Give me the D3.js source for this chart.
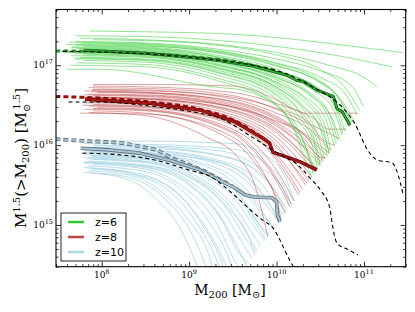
<!DOCTYPE html>
<html>
<head>
<meta charset="utf-8">
<script src="https://cdn.jsdelivr.net/npm/d3@7"></script>
<style>
  body { margin: 0; background: #fff; }
  .serif { font-family: "DejaVu Serif", "Liberation Serif", serif; }
</style>
</head>
<body>
<div id="chart"></div>
<script>
// all values are log10 : [log10 M200, log10 M^1.5(>M200)]
const xMajor = [8, 9, 10, 11];
const yMajor = [15, 16, 17];
const legendLabels = ["z=6", "z=8", "z=10"];

const linesZ6 = [
  [[7.86,17.43],[8.5,17.42],[9.5,17.39],[10.25,17.32],[11.0,17.22],[11.44,17.16]],
  [[7.70,17.37],[8.5,17.36],[9.35,17.31],[10.25,17.2],[10.8,17.1],[11.32,16.98]],
  [[7.75,17.34],[8.5,17.32],[9.35,17.26],[10.0,17.16],[10.6,17.0],[11.0,16.85],[11.15,16.73]],
  [[7.90,17.32],[8.5,17.31],[9.35,17.25],[10.0,17.13],[10.5,16.95],[10.8,16.7],[10.95,16.43]],
  [[7.70,17.30],[8.5,17.28],[9.35,17.2],[10.0,17.08],[10.5,16.93],[10.85,16.75],[10.99,16.49]],
  [[7.62,17.29],[8.5,17.27],[9.35,17.18],[10.0,17.03],[10.5,16.85],[10.8,16.62],[10.92,16.38]],
  [[7.78,17.28],[8.5,17.26],[9.35,17.17],[10.0,17.02],[10.45,16.84],[10.72,16.58],[10.86,16.29]],
  [[7.60,17.26],[8.5,17.24],[9.35,17.16],[10.0,17.0],[10.5,16.78],[10.75,16.55],[10.88,16.32]],
  [[7.75,17.27],[8.5,17.25],[9.35,17.15],[10.0,16.99],[10.45,16.82],[10.7,16.6],[10.85,16.28]],
  [[7.70,17.25],[8.5,17.23],[9.35,17.12],[10.0,16.95],[10.4,16.75],[10.75,16.45],[10.82,16.23]],
  [[7.80,17.24],[8.5,17.22],[9.35,17.1],[10.0,16.92],[10.5,16.7],[10.7,16.45],[10.78,16.17]],
  [[7.66,17.23],[8.5,17.21],[9.35,17.1],[10.0,16.93],[10.45,16.72],[10.68,16.45],[10.76,16.14]],
  [[7.65,17.22],[8.5,17.2],[9.35,17.08],[10.0,16.9],[10.4,16.7],[10.65,16.45],[10.75,16.12]],
  [[7.72,17.21],[8.5,17.19],[9.35,17.06],[10.0,16.87],[10.35,16.68],[10.6,16.4],[10.7,16.05]],
  [[7.80,17.20],[8.5,17.18],[9.35,17.05],[10.0,16.84],[10.4,16.62],[10.65,16.3],[10.72,16.08]],
  [[7.85,17.19],[8.5,17.17],[9.35,17.04],[10.0,16.85],[10.35,16.65],[10.58,16.38],[10.68,16.02]],
  [[7.68,17.18],[8.5,17.16],[9.35,17.03],[10.0,16.82],[10.3,16.62],[10.55,16.35],[10.66,15.99]],
  [[7.75,17.17],[8.5,17.15],[9.35,17.01],[10.0,16.79],[10.35,16.55],[10.55,16.25],[10.62,15.93]],
  [[7.62,17.16],[8.5,17.14],[9.35,17.0],[10.0,16.78],[10.3,16.56],[10.52,16.25],[10.6,15.9]],
  [[7.70,17.15],[8.5,17.13],[9.35,16.99],[10.0,16.76],[10.3,16.5],[10.5,16.2],[10.58,15.87]],
  [[7.82,17.14],[8.5,17.12],[9.35,16.97],[10.0,16.73],[10.3,16.48],[10.55,16.1],[10.6,15.9]],
  [[7.78,17.13],[8.5,17.11],[9.35,16.96],[10.0,16.72],[10.3,16.45],[10.48,16.1],[10.55,15.83]],
  [[7.65,17.12],[8.5,17.1],[9.35,16.95],[10.0,16.7],[10.25,16.45],[10.45,16.1],[10.53,15.8]],
  [[7.75,17.10],[8.5,17.08],[9.35,16.93],[10.0,16.67],[10.3,16.35],[10.45,16.0],[10.5,15.75]],
  [[7.68,17.09],[8.5,17.07],[9.35,16.91],[10.0,16.64],[10.28,16.32],[10.44,15.98],[10.49,15.74]],
  [[7.70,17.08],[8.5,17.06],[9.35,16.9],[10.0,16.62],[10.25,16.3],[10.42,15.95],[10.47,15.7]],
  [[7.80,17.06],[8.5,17.04],[9.35,16.87],[10.0,16.58],[10.2,16.3],[10.38,15.85],[10.45,15.68]],
  [[7.72,17.03],[8.5,17.01],[9.35,16.83],[9.9,16.6],[10.2,16.25],[10.36,15.9],[10.42,15.63]],
  [[7.65,17.00],[8.5,16.98],[9.35,16.8],[10.0,16.5],[10.2,16.2],[10.33,15.8],[10.4,15.6]],
  [[7.60,16.95],[8.0,16.95],[9.35,16.72],[9.55,16.7],[10.04,16.45],[10.3,16.0],[10.44,15.66]]
];

const linesZ8 = [
  [[7.90,16.76],[8.5,16.76],[9.5,16.74],[9.9,16.62],[10.2,16.45],[10.3,16.4],[10.93,16.4]],
  [[7.90,16.74],[8.5,16.73],[9.5,16.66],[10.0,16.52],[10.4,16.35],[10.6,16.2],[10.8,16.2]],
  [[7.85,16.72],[8.5,16.71],[9.5,16.62],[10.0,16.45],[10.4,16.25],[10.5,16.2],[10.72,16.08]],
  [[7.90,16.70],[8.5,16.69],[9.5,16.58],[10.0,16.4],[10.4,16.18],[10.62,15.93]],
  [[7.88,16.69],[8.5,16.68],[9.5,16.6],[10.0,16.46],[10.35,16.3],[10.55,16.05],[10.67,16.0]],
  [[7.80,16.68],[8.5,16.66],[9.5,16.55],[10.0,16.36],[10.35,16.12],[10.6,15.9]],
  [[7.88,16.67],[8.5,16.66],[9.5,16.54],[10.0,16.34],[10.32,16.12],[10.58,15.87]],
  [[7.95,16.66],[8.5,16.65],[9.5,16.52],[10.0,16.32],[10.3,16.1],[10.5,15.85],[10.56,15.84]],
  [[7.85,16.64],[8.5,16.63],[9.5,16.5],[10.0,16.28],[10.3,16.05],[10.53,15.8]],
  [[7.80,16.63],[8.5,16.62],[9.5,16.48],[10.0,16.26],[10.28,16.02],[10.52,15.78]],
  [[7.90,16.62],[8.5,16.61],[9.5,16.47],[10.0,16.24],[10.3,15.98],[10.5,15.75]],
  [[7.82,16.60],[8.5,16.59],[9.5,16.48],[10.0,16.3],[10.3,16.15],[10.45,15.95],[10.55,15.83]],
  [[7.75,16.60],[8.5,16.58],[9.5,16.44],[10.0,16.2],[10.25,15.95],[10.47,15.7]],
  [[7.92,16.59],[8.5,16.58],[9.5,16.43],[10.0,16.18],[10.27,15.92],[10.46,15.69]],
  [[7.90,16.58],[8.5,16.57],[9.5,16.41],[10.0,16.15],[10.25,15.9],[10.44,15.66]],
  [[7.85,16.56],[8.5,16.55],[9.5,16.38],[10.0,16.1],[10.2,15.88],[10.4,15.6]],
  [[7.92,16.55],[8.5,16.53],[9.5,16.35],[10.0,16.05],[10.2,15.8],[10.37,15.55]],
  [[7.86,16.54],[8.5,16.52],[9.5,16.33],[9.95,16.02],[10.18,15.76],[10.35,15.52]],
  [[7.80,16.53],[8.5,16.51],[9.5,16.32],[10.0,16.0],[10.2,15.72],[10.33,15.5]],
  [[7.90,16.51],[8.5,16.49],[9.5,16.28],[9.9,16.0],[10.1,15.75],[10.3,15.45]],
  [[7.78,16.50],[8.5,16.48],[9.5,16.27],[9.9,15.97],[10.1,15.7],[10.27,15.4]],
  [[7.85,16.49],[8.5,16.47],[9.5,16.25],[9.9,15.95],[10.1,15.65],[10.25,15.38]],
  [[7.95,16.47],[8.5,16.45],[9.5,16.2],[9.85,15.9],[10.05,15.6],[10.2,15.3]],
  [[7.90,16.46],[8.5,16.44],[9.5,16.17],[9.82,15.86],[10.02,15.55],[10.17,15.26]],
  [[7.80,16.45],[8.5,16.43],[9.5,16.15],[9.8,15.85],[10.0,15.55],[10.15,15.23]],
  [[7.90,16.43],[8.5,16.4],[9.5,16.1],[9.8,15.75],[10.0,15.35],[10.1,15.15]],
  [[7.85,16.41],[8.5,16.37],[9.2,16.1],[9.53,15.88],[9.75,15.5],[9.9,14.85]],
  [[7.75,16.40],[8.5,16.39],[9.5,16.05],[9.8,15.7],[10.0,15.3],[10.05,15.08]]
];

const linesZ10 = [
  [[7.85,16.05],[8.5,16.05],[9.5,16.02],[9.9,15.85],[10.1,15.6],[10.2,15.3]],
  [[7.80,16.02],[8.5,16.01],[9.5,15.95],[9.9,15.75],[10.1,15.45],[10.17,15.25]],
  [[7.90,16.00],[8.5,15.99],[9.4,15.92],[9.8,15.72],[10.05,15.5],[10.15,15.23]],
  [[7.90,15.99],[8.5,15.98],[9.3,15.88],[9.8,15.65],[10.0,15.4],[10.12,15.18]],
  [[7.83,15.97],[8.5,15.96],[9.4,15.86],[9.85,15.6],[10.0,15.4],[10.1,15.15]],
  [[7.85,15.96],[8.5,15.94],[9.3,15.82],[9.8,15.55],[10.0,15.25],[10.08,15.12]],
  [[7.86,15.95],[8.5,15.93],[9.3,15.8],[9.75,15.52],[9.97,15.18],[10.05,15.07]],
  [[7.80,15.93],[8.5,15.91],[9.3,15.77],[9.7,15.5],[9.95,15.15],[10.03,15.04]],
  [[7.87,15.92],[8.5,15.9],[9.35,15.78],[9.75,15.5],[9.95,15.2],[10.02,15.03]],
  [[7.82,15.91],[8.5,15.89],[9.25,15.74],[9.65,15.45],[9.9,15.06],[9.97,14.95]],
  [[7.90,15.90],[8.5,15.88],[9.2,15.73],[9.6,15.45],[9.9,15.05],[9.98,14.97]],
  [[7.82,15.88],[8.5,15.86],[9.2,15.68],[9.6,15.35],[9.85,14.95],[9.92,14.88]],
  [[7.88,15.87],[8.5,15.84],[9.15,15.66],[9.55,15.35],[9.82,14.92],[9.88,14.82]],
  [[7.88,15.86],[8.5,15.83],[9.1,15.65],[9.5,15.35],[9.8,14.9],[9.87,14.8]],
  [[7.85,15.85],[8.5,15.82],[9.2,15.66],[9.55,15.4],[9.8,15.0],[9.9,14.85]],
  [[7.80,15.84],[8.5,15.8],[9.1,15.6],[9.5,15.25],[9.75,14.85],[9.82,14.73]],
  [[7.84,15.83],[8.5,15.79],[9.05,15.6],[9.45,15.25],[9.72,14.78],[9.78,14.67]],
  [[7.90,15.82],[8.5,15.78],[9.0,15.6],[9.4,15.25],[9.7,14.75],[9.77,14.65]],
  [[7.85,15.80],[8.5,15.75],[9.0,15.55],[9.4,15.15],[9.65,14.7],[9.72,14.58]],
  [[7.80,15.79],[8.5,15.73],[9.0,15.52],[9.35,15.12],[9.6,14.62],[9.66,14.49]],
  [[7.80,15.78],[8.5,15.74],[9.1,15.55],[9.45,15.2],[9.7,14.8],[9.75,14.62]],
  [[7.78,15.78],[8.5,15.72],[9.0,15.5],[9.35,15.1],[9.6,14.6],[9.68,14.52]],
  [[7.90,15.76],[8.5,15.7],[8.9,15.5],[9.3,15.05],[9.55,14.5],[9.62,14.4]],
  [[7.85,15.74],[8.5,15.67],[8.9,15.45],[9.25,15.0],[9.45,14.6],[9.55,14.3]],
  [[7.80,15.72],[8.4,15.65],[8.8,15.45],[9.2,14.95],[9.4,14.55],[9.5,14.3]],
  [[7.86,15.71],[8.4,15.63],[8.85,15.42],[9.15,15.0],[9.35,14.6],[9.45,14.3]],
  [[7.90,15.70],[8.4,15.62],[8.8,15.4],[9.1,15.0],[9.3,14.6],[9.4,14.3]],
  [[7.85,15.68],[8.4,15.6],[8.7,15.4],[9.0,15.05],[9.2,14.7],[9.3,14.35]],
  [[7.80,15.66],[8.3,15.6],[8.7,15.35],[9.0,14.95],[9.15,14.6],[9.25,14.3]],
  [[7.88,15.65],[8.3,15.57],[8.6,15.35],[8.9,14.95],[9.05,14.6],[9.15,14.3]]
];

// median of the realisations
const meanZ6 = [[7.80,17.19],[8.5,17.15],[9.0,17.1],[9.35,17.06],[9.73,16.99],[10.12,16.875],[10.23,16.81],[10.3,16.8],[10.46,16.69],[10.65,16.61],[10.69,16.46],[10.75,16.42],[10.84,16.25]];
const meanZ8 = [[7.81,16.575],[8.55,16.525],[9.12,16.44],[9.53,16.29],[9.73,16.16],[9.84,16.09],[9.92,16.025],[9.96,15.91],[10.12,15.85],[10.27,15.79],[10.46,15.69]];
const meanZ10 = [[7.76,15.96],[8.09,15.94],[8.43,15.9],[8.78,15.81],[9.12,15.69],[9.35,15.56],[9.53,15.46],[9.64,15.375],[9.75,15.35],[9.95,15.34],[10.0,15.29],[10.01,15.125],[10.04,15.04]];

// full box
const fullZ6 = [[7.47,17.18],[7.8,17.18],[8.5,17.15],[9.0,17.11],[9.5,17.05],[10.0,16.93]];
const fullZ8 = [[7.47,16.61],[7.97,16.59],[8.55,16.54],[9.12,16.45],[9.53,16.3],[9.8,16.12]];
const fullZ10 = [[7.47,16.075],[7.85,16.05],[8.24,16.025],[8.47,15.975],[8.62,15.94],[8.78,15.85],[9.12,15.7],[9.5,15.48]];

// analytic expectation
const expZ6 = [[7.55,17.175],[8.55,17.14],[9.35,17.06],[9.73,17.0],[10.12,16.89],[10.46,16.7],[10.73,16.5],[10.9,16.26],[11.04,15.94],[11.16,15.81],[11.32,15.78],[11.37,15.69],[11.45,15.375]];
const expZ8 = [[7.62,16.54],[7.97,16.54],[8.55,16.49],[9.12,16.4],[9.35,16.34],[9.72,16.1],[10.01,15.9],[10.27,15.725],[10.38,15.59],[10.5,15.44],[10.61,15.21],[10.63,15.06],[10.69,14.775],[10.82,14.69],[10.93,14.625]];
const expZ10 = [[7.78,15.9],[8.24,15.875],[8.62,15.81],[8.99,15.69],[9.27,15.59],[9.38,15.5],[9.58,15.31],[9.73,15.16],[9.84,15.06],[9.96,14.96],[10.04,14.81],[10.09,14.69],[10.15,14.56],[10.2,14.46]];

const W = 415, H = 312;
const margin = { top: 9.5, right: 9.3, bottom: 45.3, left: 56 };

const svg = d3.select("#chart").append("svg")
  .attr("width", W).attr("height", H);

const x = d3.scaleLog().domain([3e7, 3e11]).range([margin.left, W - margin.right]);
const y = d3.scaleLog().domain([3e14, 5e17]).range([H - margin.bottom, margin.top]);

svg.append("clipPath").attr("id", "plot")
  .append("rect")
  .attr("x", margin.left).attr("y", margin.top)
  .attr("width", W - margin.left - margin.right)
  .attr("height", H - margin.top - margin.bottom);

const line = d3.line()
  .x((d) => x(Math.pow(10, d[0])))
  .y((d) => y(Math.pow(10, d[1])));
const smooth = d3.line()
  .x((d) => x(Math.pow(10, d[0])))
  .y((d) => y(Math.pow(10, d[1])))
  .curve(d3.curveMonotoneX);

const g = svg.append("g").attr("clip-path", "url(#plot)");

function thin(data, color, op) {
  g.append("g").selectAll("path").data(data).enter().append("path")
    .attr("d", smooth)
    .style("fill", "none")
    .style("stroke", color)
    .style("stroke-opacity", op)
    .style("stroke-width", 1);
}
thin(linesZ10, "#add8e6", 0.85);
thin(linesZ8, "#b22222", 0.42);
thin(linesZ6, "#32cd32", 0.52);

function draw(data, color, width, dash, gen) {
  g.append("path").datum(data)
    .attr("d", gen || line)
    .style("fill", "none")
    .style("stroke", color)
    .style("stroke-width", width)
    .style("stroke-dasharray", dash || null)
    .style("stroke-linejoin", "round");
}

// coloured dashed (full box)
draw(fullZ6, "#2a9a2a", 3, "5,3", smooth);
draw(fullZ8, "#9a1010", 3, "5,3", smooth);
draw(fullZ10, "#5f6f79", 3.8, "5,3", smooth);
draw(fullZ10, "#a9c4d2", 2, "5,3", smooth);

// medians with outline
draw(meanZ6, "#134d13", 3);
draw(meanZ6, "#2aa82a", 1.8);
draw(meanZ8, "#5a0000", 3.4);
draw(meanZ8, "#a31515", 2.4);
draw(meanZ10, "#5a6a75", 3.6);
draw(meanZ10, "#a9c4d2", 2);

// black dashed expectation
draw(expZ6, "#000", 1.1, "4,3", smooth);
draw(expZ8, "#000", 1.1, "4,3", smooth);
draw(expZ10, "#000", 1.1, "4,3", smooth);

// axes: ticks inward on all four sides
const allX = x.ticks();
const allY = y.ticks();
const isMajor = (v) => Math.abs(Math.log10(v) - Math.round(Math.log10(v))) < 1e-6;
const bottom = H - margin.bottom, right = W - margin.right;

function ticks(axis, pos, vals, size) {
  const a = svg.append("g").attr("transform", pos)
    .call(axis.tickValues(vals).tickSize(-size).tickFormat(""));
  a.select(".domain").remove();
  a.selectAll("line").style("stroke", "#000").style("stroke-width", 0.8);
}
const minX = allX.filter((v) => !isMajor(v)), majX = allX.filter(isMajor);
const minY = allY.filter((v) => !isMajor(v)), majY = allY.filter(isMajor);
ticks(d3.axisBottom(x), `translate(0,${bottom})`, minX, 2.5);
ticks(d3.axisBottom(x), `translate(0,${bottom})`, majX, 5);
ticks(d3.axisTop(x), `translate(0,${margin.top})`, minX, 2.5);
ticks(d3.axisTop(x), `translate(0,${margin.top})`, majX, 5);
ticks(d3.axisLeft(y), `translate(${margin.left},0)`, minY, 2.5);
ticks(d3.axisLeft(y), `translate(${margin.left},0)`, majY, 5);
ticks(d3.axisRight(y), `translate(${right},0)`, minY, 2.5);
ticks(d3.axisRight(y), `translate(${right},0)`, majY, 5);

svg.append("rect")
  .attr("x", margin.left).attr("y", margin.top)
  .attr("width", right - margin.left).attr("height", bottom - margin.top)
  .style("fill", "none").style("stroke", "#000").style("stroke-width", 1.1);

// tick labels 10^n
xMajor.forEach((e) => {
  const t = svg.append("text").attr("class", "serif")
    .attr("x", x(Math.pow(10, e))).attr("y", bottom + 11)
    .attr("text-anchor", "middle").style("font-size", "9px");
  t.append("tspan").text("10");
  t.append("tspan").attr("dy", -4).style("font-size", "6.5px").text(e);
});
yMajor.forEach((e) => {
  const t = svg.append("text").attr("class", "serif")
    .attr("x", margin.left - 3).attr("y", y(Math.pow(10, e)) + 3)
    .attr("text-anchor", "end").style("font-size", "9px");
  t.append("tspan").text("10");
  t.append("tspan").attr("dy", -4).style("font-size", "6.5px").text(e);
});

// axis labels
const xl = svg.append("text").attr("class", "serif")
  .attr("x", 230).attr("y", 295).attr("text-anchor", "middle")
  .style("font-size", "14px");
xl.append("tspan").text("M");
xl.append("tspan").attr("dy", 3).style("font-size", "10px").text("200");
xl.append("tspan").attr("dy", -3).text(" [M");
xl.append("tspan").attr("dy", 3).style("font-size", "10px").text("\u2299");
xl.append("tspan").attr("dy", -3).text("]");

const yl = svg.append("text").attr("class", "serif")
  .attr("transform", "translate(26,158) rotate(-90)")
  .attr("text-anchor", "middle").style("font-size", "15px");
yl.append("tspan").text("M");
yl.append("tspan").attr("dy", -6).style("font-size", "10px").text("1.5");
yl.append("tspan").attr("dy", 6).text("(>M");
yl.append("tspan").attr("dy", 3).style("font-size", "10px").text("200");
yl.append("tspan").attr("dy", -3).text(")  [M");
yl.append("tspan").attr("dy", 4).style("font-size", "10px").text("\u2299");
yl.append("tspan").attr("dy", -10).attr("dx", -6).style("font-size", "10px").text("1.5");
yl.append("tspan").attr("dy", 6).text("]");

// legend
const legColors = ["#32cd32", "#b22222", "#add8e6"];
const leg = svg.append("g");
leg.append("rect").attr("x", 61).attr("y", 213).attr("width", 65).attr("height", 48)
  .style("fill", "#fff").style("stroke", "#222").style("stroke-width", 1);
legendLabels.forEach((lab, i) => {
  const cy = 222 + i * 15;
  leg.append("line").attr("x1", 68).attr("x2", 84).attr("y1", cy).attr("y2", cy)
    .style("stroke", legColors[i]).style("stroke-width", 2.5)
    .style("stroke-opacity", i == 1 ? 0.85 : 1);
  leg.append("text").attr("x", 95).attr("y", cy + 4)
    .style("font-family", "DejaVu Sans, sans-serif").style("font-size", "11px")
    .text(lab);
});
</script>
</body>
</html>
